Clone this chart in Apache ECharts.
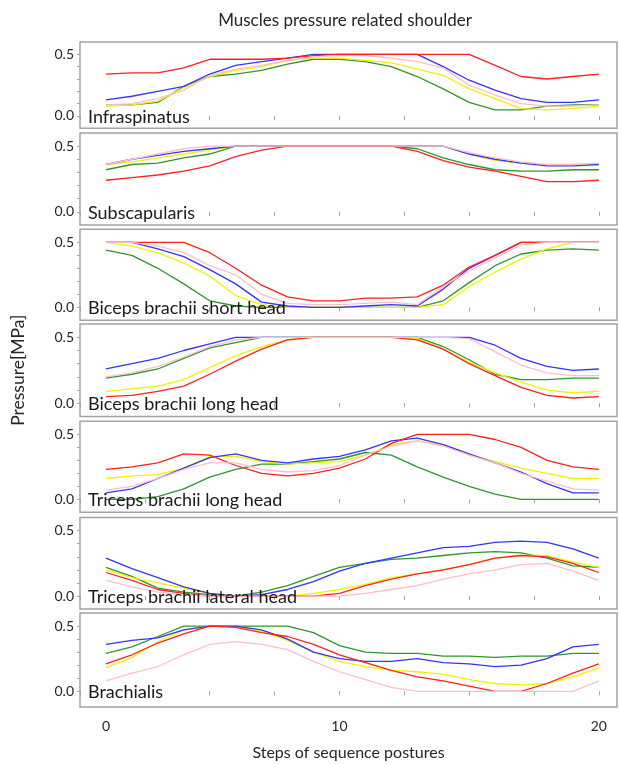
<!DOCTYPE html>
<html>
<head>
<meta charset="utf-8">
<script src="https://cdn.jsdelivr.net/npm/echarts@6/dist/echarts.min.js"></script>
<style>
  html, body { margin: 0; padding: 0; background: #ffffff; }
  #chart { width: 619px; height: 764px; }
</style>
</head>
<body>
<div id="chart"></div>
<script>
// Step numbers of the posture sequence (one point per step)
const steps = [1, 2, 3, 4, 5, 6, 7, 8, 9, 10, 11, 12, 13, 14, 15, 16, 17, 18, 19, 20];

// Bottom axis labels and where they sit
const xLabelAt = [1, 10, 20];
const xLabelText = ['0', '10', '20'];
const xTickAt = [0, 2.5, 5, 7.5, 10, 12.5, 15, 17.5, 20];
const yLabelAt = [0, 0.5];
const yTickAt = [0, 0.1, 0.2, 0.3, 0.4, 0.5];

const muscles = [
  'Infraspinatus',
  'Subscapularis',
  'Biceps brachii short head',
  'Biceps brachii long head',
  'Triceps brachii long head',
  'Triceps brachii lateral head',
  'Brachialis'
];

// Pressure [MPa] per muscle, one array per curve colour
const infraspinatusRed    = [0.34, 0.35, 0.35, 0.39, 0.46, 0.46, 0.46, 0.47, 0.49, 0.50, 0.50, 0.50, 0.50, 0.50, 0.50, 0.41, 0.32, 0.30, 0.32, 0.34];
const infraspinatusBlue   = [0.13, 0.16, 0.20, 0.24, 0.34, 0.41, 0.44, 0.47, 0.50, 0.50, 0.50, 0.50, 0.50, 0.40, 0.29, 0.21, 0.14, 0.11, 0.11, 0.13];
const infraspinatusPink   = [0.09, 0.10, 0.14, 0.21, 0.33, 0.38, 0.41, 0.45, 0.48, 0.49, 0.49, 0.47, 0.44, 0.39, 0.25, 0.17, 0.10, 0.08, 0.08, 0.09];
const infraspinatusYellow = [0.08, 0.09, 0.12, 0.23, 0.32, 0.37, 0.40, 0.45, 0.47, 0.47, 0.45, 0.43, 0.38, 0.33, 0.22, 0.14, 0.06, 0.05, 0.06, 0.08];
const infraspinatusGreen  = [0.09, 0.09, 0.11, 0.24, 0.32, 0.34, 0.37, 0.42, 0.46, 0.46, 0.44, 0.40, 0.32, 0.22, 0.11, 0.05, 0.05, 0.08, 0.09, 0.09];

const subscapularisRed    = [0.24, 0.26, 0.28, 0.31, 0.35, 0.42, 0.47, 0.50, 0.50, 0.50, 0.50, 0.50, 0.46, 0.39, 0.34, 0.31, 0.27, 0.23, 0.23, 0.24];
const subscapularisBlue   = [0.36, 0.40, 0.43, 0.46, 0.48, 0.50, 0.50, 0.50, 0.50, 0.50, 0.50, 0.50, 0.50, 0.50, 0.44, 0.40, 0.37, 0.35, 0.35, 0.36];
const subscapularisPink   = [0.36, 0.40, 0.44, 0.48, 0.50, 0.50, 0.50, 0.50, 0.50, 0.50, 0.50, 0.50, 0.50, 0.50, 0.45, 0.41, 0.38, 0.36, 0.36, 0.37];
const subscapularisYellow = [0.36, 0.38, 0.41, 0.44, 0.47, 0.50, 0.50, 0.50, 0.50, 0.50, 0.50, 0.50, 0.50, 0.50, 0.44, 0.39, 0.37, 0.36, 0.36, 0.36];
const subscapularisGreen  = [0.32, 0.36, 0.37, 0.41, 0.44, 0.50, 0.50, 0.50, 0.50, 0.50, 0.50, 0.50, 0.48, 0.41, 0.36, 0.32, 0.31, 0.31, 0.32, 0.32];

const bicepsShortRed      = [0.50, 0.50, 0.50, 0.50, 0.42, 0.30, 0.17, 0.08, 0.05, 0.05, 0.07, 0.07, 0.08, 0.17, 0.31, 0.40, 0.50, 0.50, 0.50, 0.50];
const bicepsShortBlue     = [0.50, 0.50, 0.45, 0.39, 0.29, 0.18, 0.04, 0.01, 0.00, 0.00, 0.01, 0.02, 0.01, 0.14, 0.30, 0.40, 0.50, 0.50, 0.50, 0.50];
const bicepsShortPink     = [0.50, 0.50, 0.47, 0.42, 0.32, 0.25, 0.10, 0.03, 0.02, 0.02, 0.03, 0.04, 0.02, 0.16, 0.28, 0.38, 0.48, 0.50, 0.50, 0.50];
const bicepsShortYellow   = [0.50, 0.47, 0.42, 0.34, 0.24, 0.09, 0.02, 0.00, 0.00, 0.00, 0.00, 0.00, 0.00, 0.02, 0.16, 0.27, 0.37, 0.45, 0.50, 0.50];
const bicepsShortGreen    = [0.44, 0.40, 0.30, 0.18, 0.05, 0.01, 0.00, 0.00, 0.00, 0.00, 0.00, 0.00, 0.00, 0.05, 0.19, 0.32, 0.41, 0.44, 0.45, 0.44];

const bicepsLongRed       = [0.05, 0.06, 0.09, 0.13, 0.22, 0.32, 0.41, 0.48, 0.50, 0.50, 0.50, 0.50, 0.48, 0.41, 0.30, 0.21, 0.12, 0.06, 0.04, 0.05];
const bicepsLongBlue      = [0.26, 0.30, 0.34, 0.40, 0.45, 0.50, 0.50, 0.50, 0.50, 0.50, 0.50, 0.50, 0.50, 0.50, 0.50, 0.44, 0.34, 0.28, 0.25, 0.26];
const bicepsLongPink      = [0.20, 0.23, 0.28, 0.35, 0.43, 0.48, 0.50, 0.50, 0.50, 0.50, 0.50, 0.50, 0.50, 0.50, 0.49, 0.39, 0.29, 0.23, 0.21, 0.21];
const bicepsLongYellow    = [0.09, 0.11, 0.13, 0.18, 0.27, 0.36, 0.43, 0.48, 0.50, 0.50, 0.50, 0.50, 0.49, 0.41, 0.31, 0.23, 0.16, 0.10, 0.08, 0.09];
const bicepsLongGreen     = [0.19, 0.22, 0.26, 0.34, 0.42, 0.46, 0.50, 0.50, 0.50, 0.50, 0.50, 0.50, 0.50, 0.43, 0.33, 0.22, 0.18, 0.18, 0.19, 0.19];

const tricepsLongRed      = [0.23, 0.25, 0.28, 0.35, 0.34, 0.26, 0.20, 0.18, 0.20, 0.24, 0.31, 0.43, 0.50, 0.50, 0.50, 0.46, 0.40, 0.30, 0.25, 0.23];
const tricepsLongBlue     = [0.05, 0.08, 0.16, 0.24, 0.32, 0.35, 0.30, 0.28, 0.31, 0.33, 0.38, 0.45, 0.47, 0.42, 0.35, 0.28, 0.21, 0.12, 0.05, 0.05];
const tricepsLongPink     = [0.07, 0.10, 0.16, 0.23, 0.28, 0.28, 0.23, 0.21, 0.22, 0.26, 0.34, 0.41, 0.45, 0.41, 0.34, 0.28, 0.20, 0.14, 0.08, 0.07];
const tricepsLongYellow   = [0.16, 0.18, 0.19, 0.24, 0.33, 0.33, 0.29, 0.27, 0.28, 0.29, 0.34, 0.42, 0.45, 0.42, 0.34, 0.29, 0.24, 0.20, 0.16, 0.16];
const tricepsLongGreen    = [0.00, 0.00, 0.02, 0.08, 0.17, 0.23, 0.27, 0.27, 0.29, 0.31, 0.36, 0.34, 0.25, 0.17, 0.10, 0.04, 0.00, 0.00, 0.00, 0.00];

const tricepsLateralRed    = [0.18, 0.12, 0.05, 0.02, 0.00, 0.00, 0.00, 0.00, 0.00, 0.02, 0.08, 0.13, 0.17, 0.20, 0.24, 0.29, 0.31, 0.30, 0.25, 0.18];
const tricepsLateralBlue   = [0.29, 0.21, 0.14, 0.07, 0.02, 0.00, 0.01, 0.05, 0.11, 0.19, 0.25, 0.29, 0.33, 0.37, 0.38, 0.41, 0.42, 0.41, 0.36, 0.29];
const tricepsLateralPink   = [0.12, 0.07, 0.03, 0.01, 0.00, 0.00, 0.00, 0.00, 0.00, 0.00, 0.02, 0.05, 0.08, 0.13, 0.17, 0.20, 0.24, 0.25, 0.19, 0.12];
const tricepsLateralYellow = [0.20, 0.14, 0.10, 0.06, 0.02, 0.00, 0.00, 0.00, 0.02, 0.05, 0.09, 0.14, 0.17, 0.20, 0.24, 0.29, 0.31, 0.31, 0.26, 0.22];
const tricepsLateralGreen  = [0.22, 0.15, 0.06, 0.03, 0.01, 0.00, 0.03, 0.08, 0.15, 0.22, 0.25, 0.28, 0.29, 0.31, 0.33, 0.34, 0.33, 0.29, 0.23, 0.22];

const brachialisRed       = [0.21, 0.28, 0.37, 0.44, 0.50, 0.49, 0.45, 0.42, 0.36, 0.28, 0.22, 0.16, 0.11, 0.08, 0.04, 0.00, 0.00, 0.06, 0.14, 0.21];
const brachialisBlue      = [0.36, 0.39, 0.41, 0.47, 0.50, 0.50, 0.47, 0.40, 0.30, 0.25, 0.23, 0.23, 0.25, 0.22, 0.21, 0.19, 0.20, 0.25, 0.34, 0.36];
const brachialisPink      = [0.08, 0.14, 0.19, 0.28, 0.36, 0.38, 0.36, 0.32, 0.23, 0.15, 0.09, 0.03, 0.00, 0.00, 0.00, 0.00, 0.00, 0.00, 0.00, 0.08];
const brachialisYellow    = [0.18, 0.26, 0.38, 0.47, 0.50, 0.50, 0.46, 0.39, 0.30, 0.23, 0.19, 0.16, 0.15, 0.13, 0.09, 0.06, 0.05, 0.06, 0.11, 0.18];
const brachialisGreen     = [0.29, 0.34, 0.42, 0.50, 0.50, 0.50, 0.50, 0.50, 0.45, 0.35, 0.30, 0.29, 0.29, 0.27, 0.27, 0.26, 0.27, 0.27, 0.29, 0.29];

// Curves per panel, in drawing order (pink is drawn last, on top)
const panelCurves = [
  [infraspinatusGreen, infraspinatusYellow, infraspinatusBlue, infraspinatusRed, infraspinatusPink],
  [subscapularisGreen, subscapularisYellow, subscapularisBlue, subscapularisRed, subscapularisPink],
  [bicepsShortGreen, bicepsShortYellow, bicepsShortBlue, bicepsShortRed, bicepsShortPink],
  [bicepsLongGreen, bicepsLongYellow, bicepsLongBlue, bicepsLongRed, bicepsLongPink],
  [tricepsLongGreen, tricepsLongYellow, tricepsLongBlue, tricepsLongRed, tricepsLongPink],
  [tricepsLateralGreen, tricepsLateralYellow, tricepsLateralBlue, tricepsLateralRed, tricepsLateralPink],
  [brachialisGreen, brachialisYellow, brachialisBlue, brachialisRed, brachialisPink]
];
const curveColors = ['#2f962f', '#f2f200', '#3434ff', '#ff2020', '#ffbfca'];

// Panel placement on the page
const gridLeft = 80;
const gridRight = 2;
const panelTops = [42, 133, 229.3, 324.1, 421.3, 517.6, 613];
const panelHeights = [86.3, 91.9, 91, 92.4, 91, 91.5, 94];
const panelMins = [-0.1, -0.1, -0.1, -0.1, -0.1, -0.1, -0.12];
const yMax = 0.6;

const textColor = '#262626';
const frameColor = '#a3a3a3';
const fontFamily = 'Lato, "Noto Sans", sans-serif';

const chart = echarts.init(document.getElementById('chart'), null, { renderer: 'canvas' });

const grids = [];
const xAxes = [];
const yAxes = [];
const series = [];
const titles = [{
  text: 'Muscles pressure related shoulder',
  left: 340,
  top: 7,
  textAlign: 'center',
  textStyle: { fontFamily, fontSize: 17, fontWeight: 'normal', color: textColor }
}];

muscles.forEach((name, p) => {
  const last = p === muscles.length - 1;
  grids.push({
    left: gridLeft, right: gridRight, top: panelTops[p], height: panelHeights[p],
    show: true, borderColor: frameColor, borderWidth: 1.5, backgroundColor: 'transparent'
  });
  xAxes.push({
    type: 'value', gridIndex: p, min: 0, max: 20.7,
    axisLine: { show: false },
    splitLine: { show: false },
    axisTick: { show: true, inside: false, length: 4, customValues: xTickAt, lineStyle: { color: frameColor, width: 1 } },
    axisLabel: {
      show: last, customValues: xLabelAt, margin: 12,
      fontFamily, fontSize: 14, color: textColor,
      formatter: v => xLabelText[xLabelAt.indexOf(v)]
    },
    name: last ? 'Steps of sequence postures' : '',
    nameLocation: 'middle', nameGap: 38,
    nameTextStyle: { fontFamily, fontSize: 16, color: textColor }
  });
  yAxes.push({
    type: 'value', gridIndex: p, min: panelMins[p], max: yMax,
    axisLine: { show: false },
    splitLine: { show: false },
    axisTick: { show: true, inside: false, length: 3, customValues: yTickAt, lineStyle: { color: frameColor, width: 1 } },
    axisLabel: {
      customValues: yLabelAt, margin: 6,
      fontFamily, fontSize: 14, color: textColor,
      formatter: v => v.toFixed(1)
    },
    name: p === 3 ? 'Pressure[MPa]' : '',
    nameLocation: 'middle', nameRotate: 90, nameGap: 53,
    nameTextStyle: { fontFamily, fontSize: 17.5, color: textColor }
  });
  panelCurves[p].forEach((vals, c) => {
    series.push({
      type: 'line', xAxisIndex: p, yAxisIndex: p,
      data: steps.map((s, i) => [s, vals[i]]),
      showSymbol: false, symbol: 'none', silent: true, animation: false,
      lineStyle: { color: curveColors[c], width: 1.3 }
    });
  });
  // muscle name, bottom-left inside each panel
  const span = yMax - panelMins[p];
  const zeroY = panelTops[p] + panelHeights[p] * (yMax / span);
  titles.push({
    text: name,
    left: 83,
    top: zeroY - 13,
    textStyle: { fontFamily, fontSize: 18, fontWeight: 'normal', color: '#1a1a1a' }
  });
});

chart.setOption({
  backgroundColor: '#ffffff',
  animation: false,
  title: titles,
  grid: grids,
  xAxis: xAxes,
  yAxis: yAxes,
  series
});
</script>
</body>
</html>
